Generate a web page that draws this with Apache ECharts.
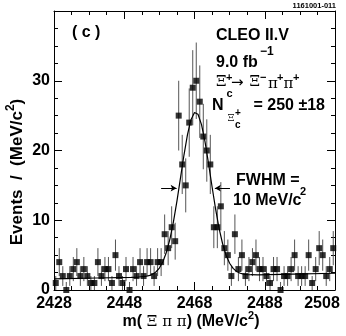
<!DOCTYPE html>
<html>
<head>
<meta charset="utf-8">
<script src="https://cdn.jsdelivr.net/npm/echarts@6/dist/echarts.min.js"></script>
<style>
html, body { margin: 0; padding: 0; background: #fff; }
#chart { width: 346px; height: 336px; }
</style>
</head>
<body>
<div id="chart"></div>
<script>
// m(Xi pi pi) spectrum, 1 MeV/c2 bins from 2428 to 2508
const binLow = 2428
const binWidth = 1
const counts = [
  1, 4, 2, 0, 2, 3, 4, 2, 3, 2,
  1, 1, 4, 2, 3, 3, 1, 5, 2, 1,
  3, 0, 3, 2, 4, 2, 4, 4, 2, 4,
  4, 8, 6, 9, 7, 25, 18, 15, 24, 29,
  30, 27, 22, 20, 18, 9, 9, 12, 6, 5,
  2, 8, 3, 5, 2, 3, 4, 5, 3, 3,
  2, 1, 3, 3, 0, 2, 2, 3, 5, 2,
  2, 2, 5, 1, 3, 6, 5, 2, 3, 6
]

// fit curve (gaussian on a sloping background)
const fitMass = [2428, 2440, 2450, 2452, 2454, 2455, 2456, 2457, 2458, 2459, 2460, 2461, 2462, 2463, 2464,
  2465, 2466, 2467, 2468, 2469, 2470, 2471, 2472, 2473, 2474, 2475, 2476, 2477, 2478, 2479,
  2480, 2481, 2482, 2483, 2484, 2486, 2496, 2508]
const fitValue = [1.6, 1.72, 1.82, 1.86, 1.94, 2.05, 2.24, 2.58, 3.15, 4.06, 5.41, 7.3, 9.77, 12.75, 16.05,
  19.35, 22.28, 24.42, 25.44, 25.19, 23.71, 21.24, 18.13, 14.8, 11.62, 8.85, 6.63, 4.98, 3.84, 3.1,
  2.65, 2.4, 2.27, 2.21, 2.19, 2.18, 2.28, 2.4]

// FWHM arrows [from, to] at height fwhmLevel
const fwhmLeft = [2458.5, 2462.9]
const fwhmRight = [2478.1, 2473.8]
const fwhmLevel = 14.6

const xTicks = [2428, 2448, 2468, 2488, 2508]
const yTicks = [0, 10, 20, 30, 40]

const SANS = '"Liberation Sans", Arial, sans-serif'
const SERIF = '"DejaVu Serif", "Liberation Serif", serif'

const points = counts.map((n, i) => [binLow + (i + 0.5) * binWidth, n])
const errors = counts.map((n, i) => [binLow + (i + 0.5) * binWidth, n, n > 0 ? Math.sqrt(n) : 1.15])
const fitLine = fitMass.map((m, i) => [m, fitValue[i]])

function label(x, y, text, size, opt) {
  return {
    type: 'text',
    x: x,
    y: y,
    silent: true,
    style: Object.assign({
      text: text,
      fontSize: size,
      fontWeight: 'bold',
      fontFamily: SANS,
      fill: '#000',
      align: 'left',
      verticalAlign: 'middle'
    }, opt || {})
  }
}
const greek = { fontWeight: 'normal', fontFamily: SERIF }

function axisStyle(pos, showLabel, ticks) {
  return {
    type: 'value',
    position: pos,
    min: ticks[0],
    max: ticks[ticks.length - 1],
    interval: ticks[1] - ticks[0],
    axisLine: { show: true, onZero: false, lineStyle: { color: '#000', width: 1 } },
    axisTick: { show: true, inside: true, length: 8, lineStyle: { color: '#000', width: 1 } },
    minorTick: { show: true, splitNumber: 4, length: 4, lineStyle: { color: '#000', width: 1 } },
    splitLine: { show: false },
    axisLabel: {
      show: showLabel,
      color: '#000',
      fontSize: 16,
      fontWeight: 'bold',
      fontFamily: SANS
    }
  }
}

const chart = echarts.init(document.getElementById('chart'), null, { renderer: 'canvas' })

const xBottom = axisStyle('bottom', true, xTicks)
xBottom.axisLabel.margin = 6
xBottom.axisLabel.formatter = function (v) {
  return v === xTicks[xTicks.length - 1] ? '{last|' + v + '}' : String(v)
}
xBottom.axisLabel.rich = {
  last: { padding: [0, 26, 0, 0], fontSize: 16, fontWeight: 'bold', fontFamily: SANS, color: '#000' }
}
const yLeft = axisStyle('left', true, yTicks)
yLeft.axisLabel.margin = 4
yLeft.axisLabel.showMaxLabel = false

const option = {
  animation: false,
  backgroundColor: '#fff',
  grid: { left: 54, right: 11, top: 11, bottom: 46, containLabel: false, outerBoundsMode: 'none' },
  xAxis: [xBottom, axisStyle('top', false, xTicks)],
  yAxis: [yLeft, axisStyle('right', false, yTicks)],
  series: [
    {
      type: 'custom',
      name: 'errors',
      silent: true,
      data: errors,
      clip: false,
      renderItem: function (params, api) {
        const x = api.value(0)
        const y = api.value(1)
        const e = api.value(2)
        const lo = api.coord([x, Math.max(y - e, 0)])
        const hi = api.coord([x, y + e])
        return {
          type: 'line',
          shape: { x1: lo[0], y1: lo[1], x2: hi[0], y2: hi[1] },
          style: { stroke: '#555', lineWidth: 1 }
        }
      }
    },
    {
      type: 'line',
      name: 'fit',
      data: fitLine,
      showSymbol: false,
      silent: true,
      lineStyle: { color: '#000', width: 1.2 },
      markLine: {
        silent: true,
        symbol: ['none', 'arrow'],
        symbolSize: [5, 6],
        label: { show: false },
        lineStyle: { color: '#000', width: 1, type: 'solid' },
        data: [
          [{ coord: [fwhmLeft[0], fwhmLevel] }, { coord: [fwhmLeft[1], fwhmLevel] }],
          [{ coord: [fwhmRight[0], fwhmLevel] }, { coord: [fwhmRight[1], fwhmLevel] }]
        ]
      }
    },
    {
      type: 'scatter',
      name: 'data',
      data: points,
      symbol: 'rect',
      symbolSize: 6,
      silent: true,
      clip: false,
      itemStyle: { color: '#000' }
    }
  ],
  graphic: [
    label(336, 6, '1161001-011', 7.5, { align: 'right' }),
    label(72, 33, '( c )', 16),
    label(216, 36, 'CLEO II.V', 16),
    label(216, 62.5, '9.0 fb', 16),
    label(260, 52, '\u22121', 12),
    // Xi_c+ -> Xi- pi+ pi+
    label(216, 82.5, '\u039E', 15, greek),
    label(226, 78, '+', 11),
    label(226.5, 93.5, 'c', 11),
    label(231, 83.5, '\u2192', 15, { fontWeight: 'normal', fontFamily: '"DejaVu Sans", sans-serif' }),
    label(249.5, 82.5, '\u039E', 15, greek),
    label(260, 78, '\u2212', 11),
    label(268, 84, '\u03C0', 15, greek),
    label(277, 78, '+', 11),
    label(283.5, 84, '\u03C0', 15, greek),
    label(293, 78, '+', 11),
    // N_{Xi_c+} = 250 +- 18
    label(212, 106, 'N', 16),
    label(227.5, 118, '\u039E', 10, greek),
    label(235, 113, '+', 10),
    label(235, 125, 'c', 10),
    label(325, 106, '= 250 \u00B118', 16, { align: 'right' }),
    // FWHM
    label(236, 180.5, 'FWHM =', 16),
    label(233, 201, '10 MeV/c', 16),
    label(300, 192, '2', 11),
    // axis titles
    {
      type: 'text',
      x: 191,
      y: 322,
      silent: true,
      style: {
        text: '{b|m(}{g| \u039E \u03C0 \u03C0}{b|) (MeV/c}{s|2}{b|)}',
        align: 'center',
        verticalAlign: 'middle',
        fill: '#000',
        rich: {
          b: { fontSize: 16, fontWeight: 'bold', fontFamily: SANS, fill: '#000' },
          g: { fontSize: 15, fontWeight: 'normal', fontFamily: SERIF, fill: '#000' },
          s: { fontSize: 11, fontWeight: 'bold', fontFamily: SANS, fill: '#000', padding: [0, 0, 12, 0] }
        }
      }
    },
    {
      type: 'text',
      x: 17,
      y: 172,
      rotation: Math.PI / 2,
      silent: true,
      style: {
        text: '{b|Events  /  (MeV/c}{s|2}{b|)}',
        align: 'center',
        verticalAlign: 'middle',
        fill: '#000',
        rich: {
          b: { fontSize: 17, fontWeight: 'bold', fontFamily: SANS, fill: '#000' },
          s: { fontSize: 12, fontWeight: 'bold', fontFamily: SANS, fill: '#000', padding: [0, 0, 13, 0] }
        }
      }
    }
  ]
}

chart.setOption(option)
</script>
</body>
</html>
